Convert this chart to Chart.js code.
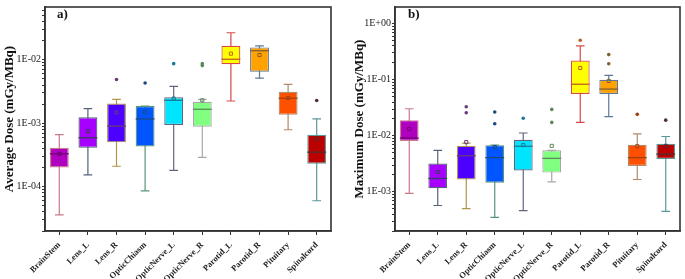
<!DOCTYPE html>
<html>
<head>
<meta charset="utf-8">
<script src="https://cdn.jsdelivr.net/npm/chart.js@4.4.1/dist/chart.umd.min.js"></script>
<style>
  body { margin: 0; background: #fff; }
  #wrap { position: relative; width: 685px; height: 279px; overflow: hidden; background: #fff; }
  .panel { position: absolute; top: 0; }
  .tag { position: absolute; font: bold 13px 'Liberation Serif', 'Times New Roman', serif; color: #111; }
</style>
</head>
<body>
<div id="wrap">
  <canvas id="avgChart" class="panel" width="336" height="279" style="left:0px"></canvas>
  <canvas id="maxChart" class="panel" width="335" height="279" style="left:350px"></canvas>
  <div class="tag" style="left:57px; top:6px;">a)</div>
  <div class="tag" style="left:408px; top:6px;">b)</div>
</div>
<script>
const organs = ['BrainStem', 'Lens_L', 'Lens_R', 'OpticChiasm', 'OpticNerve_L', 'OpticNerve_R', 'Parotid_L', 'Parotid_R', 'Pituitary', 'Spinalcord'];

// a) average dose
const avgMin    = [3.6e-5, 1.53e-4, 2.1e-4, 8.6e-5, 1.8e-4, 2.9e-4, 2.24e-3, 5.15e-3, 7.9e-4, 6.0e-5];
const avgQ1     = [2.0e-4, 4.1e-4, 5.0e-4, 4.3e-4, 9.4e-4, 8.8e-4, 8.5e-3, 6.5e-3, 1.36e-3, 2.3e-4];
const avgMedian = [3.3e-4, 5.9e-4, 9.0e-4, 1.17e-3, 2.3e-3, 1.66e-3, 1.02e-2, 1.39e-2, 2.48e-3, 3.5e-4];
const avgQ3     = [4.1e-4, 1.24e-3, 2.05e-3, 1.87e-3, 2.57e-3, 2.18e-3, 1.66e-2, 1.57e-2, 3.14e-3, 6.6e-4];
const avgMax    = [6.6e-4, 1.7e-3, 2.37e-3, 1.87e-3, 3.8e-3, 2.37e-3, 2.67e-2, 1.66e-2, 4.1e-3, 1.17e-3];
const avgMean   = [3.3e-4, 7.5e-4, 1.48e-3, 1.48e-3, 2.45e-3, 2.3e-3, 1.25e-2, 1.19e-2, 2.5e-3, 5.7e-4];
const avgOutliers = [[], [], [4.9e-3], [4.3e-3], [8.7e-3], [8.7e-3, 8.1e-3], [], [], [], [2.28e-3]];
const avgTicks = [1e-4, 1e-3, 1e-2];

// b) maximum dose
const maxMin    = [9.4e-4, 5.7e-4, 5.0e-4, 3.5e-4, 4.6e-4, 1.5e-3, 1.73e-2, 2.2e-2, 1.66e-3, 4.46e-4];
const maxQ1     = [8.05e-3, 1.16e-3, 1.66e-3, 1.45e-3, 2.4e-3, 2.2e-3, 5.54e-2, 5.54e-2, 2.9e-3, 3.86e-3];
const maxMedian = [9.1e-3, 1.73e-3, 4.4e-3, 4.07e-3, 6.5e-3, 3.95e-3, 8.3e-2, 6.8e-2, 4.07e-3, 4.7e-3];
const maxQ3     = [1.9e-2, 3.2e-3, 6.6e-3, 6.8e-3, 8.5e-3, 5.5e-3, 0.22, 0.1, 6.9e-3, 7.2e-3];
const maxMax    = [3.03e-2, 5.5e-3, 7.4e-3, 6.8e-3, 1.12e-2, 5.5e-3, 0.40, 0.119, 1.08e-2, 9.7e-3];
const maxMean   = [1.32e-2, 2.25e-3, 7.7e-3, 6.3e-3, 6.8e-3, 6.6e-3, 0.162, 0.095, 6.5e-3, 6.6e-3];
const maxOutliers = [[], [], [0.0329, 0.0258], [0.0265, 0.0164], [0.0205], [0.0295, 0.0173], [0.505], [0.28, 0.192], [0.0241], [0.019]];
const maxTicks = [1e-3, 1e-2, 1e-1, 1];

// colours
const boxFill   = ['#b000c0', '#a800ff', '#4c00ff', '#0055ff', '#00e5ff', '#80ff80', '#ffff00', '#ffa200', '#ff5000', '#bb0000'];
const lineColor = ['#c87a88', '#56637a', '#b0954a', '#5a9478', '#646480', '#a8a8a8', '#d84848', '#5d7896', '#b08a6c', '#5a9898'];
const darkColor = ['#700070', '#3a3a60', '#6a3a7a', '#1a4a80', '#1a7a90', '#5a8a5a', '#c06020', '#806030', '#a04010', '#503030'];

const serif = "'Liberation Serif', 'Times New Roman', serif";

function sciLabel(v) {
  const e = Math.round(Math.log10(v));
  if (Math.abs(Math.log10(v) - e) > 1e-6) return '';
  return '1E' + (e < 0 ? '-' : '+') + String(Math.abs(e)).padStart(2, '0');
}

// whiskers behind the boxes, medians on top of them
const boxExtras = {
  id: 'boxExtras',
  beforeDatasetDraw(chart, args, opts) {
    if (args.index !== 2) return;
    const ctx = chart.ctx, y = chart.scales.y;
    args.meta.data.forEach((bar, i) => {
      const half = bar.width * 0.23;
      ctx.save();
      ctx.strokeStyle = lineColor[i];
      ctx.lineWidth = 1.2;
      ctx.beginPath();
      ctx.moveTo(bar.x, y.getPixelForValue(opts.min[i]));
      ctx.lineTo(bar.x, y.getPixelForValue(opts.max[i]));
      [opts.min[i], opts.max[i]].forEach(v => {
        const py = y.getPixelForValue(v);
        ctx.moveTo(bar.x - half, py);
        ctx.lineTo(bar.x + half, py);
      });
      ctx.stroke();
      ctx.restore();
    });
  },
  afterDatasetDraw(chart, args, opts) {
    if (args.index !== 2) return;
    const ctx = chart.ctx, y = chart.scales.y;
    args.meta.data.forEach((bar, i) => {
      const py = y.getPixelForValue(opts.median[i]);
      ctx.save();
      ctx.strokeStyle = darkColor[i];
      ctx.lineWidth = 1.3;
      ctx.beginPath();
      ctx.moveTo(bar.x - bar.width / 2, py);
      ctx.lineTo(bar.x + bar.width / 2, py);
      ctx.stroke();
      ctx.restore();
    });
  },
  afterDraw(chart) {
    const a = chart.chartArea, ctx = chart.ctx;
    ctx.save();
    ctx.strokeStyle = '#333';
    ctx.lineWidth = 1.6;
    ctx.strokeRect(a.left, a.top, a.right - a.left, a.bottom - a.top);
    ctx.restore();
  }
};

function makeChart(id, title, d) {
  const outlierPts = [], outlierCols = [];
  d.outliers.forEach((list, i) => list.forEach(v => {
    outlierPts.push({ x: organs[i], y: v });
    outlierCols.push(darkColor[i]);
  }));
  const minor = [];
  d.ticks.forEach(t => [1, 2, 3, 4, 5, 6, 7, 8, 9].forEach(m => {
    [t / 10, t].forEach(base => {
      const v = parseFloat((m * base).toPrecision(3));
      if (v >= d.yMin && v <= d.yMax && !minor.includes(v)) minor.push(v);
    });
  }));
  [d.ticks[d.ticks.length - 1]].forEach(t => [2, 3, 4, 5, 6, 7, 8, 9].forEach(m => {
    const v = parseFloat((m * t).toPrecision(3));
    if (v <= d.yMax && !minor.includes(v)) minor.push(v);
  }));
  minor.sort((a, b) => a - b);

  return new Chart(document.getElementById(id), {
    type: 'bar',
    data: {
      labels: organs,
      datasets: [{
        type: 'line',
        data: d.mean,
        showLine: false,
        pointStyle: 'rect',
        pointRadius: 2.2,
        pointBorderWidth: 1,
        pointBackgroundColor: 'rgba(0,0,0,0)',
        pointBorderColor: darkColor,
        order: 0
      }, {
        type: 'line',
        data: outlierPts,
        showLine: false,
        pointStyle: 'circle',
        pointRadius: 1.8,
        pointBorderWidth: 0,
        pointBackgroundColor: outlierCols,
        order: 1
      }, {
        type: 'bar',
        data: organs.map((_, i) => [d.q1[i], d.q3[i]]),
        backgroundColor: boxFill,
        borderColor: lineColor,
        borderWidth: 1.2,
        borderSkipped: false,
        categoryPercentage: 1,
        barPercentage: 0.66,
        order: 2
      }]
    },
    options: {
      responsive: false,
      animation: false,
      devicePixelRatio: 1,
      layout: { padding: { top: 2, right: d.padRight, left: 0, bottom: 0 } },
      plugins: {
        legend: { display: false },
        tooltip: { enabled: false },
        boxExtras: { min: d.min, max: d.max, median: d.median }
      },
      scales: {
        x: {
          type: 'category',
          offset: true,
          grid: { offset: false, drawOnChartArea: false, tickLength: 4, color: '#333' },
          border: { color: '#333', width: 1.6 },
          ticks: { autoSkip: false, minRotation: 45, maxRotation: 45, padding: 5, color: '#222', font: { family: serif, size: 8.5, weight: 'bold' } },
          afterFit: s => { s.height = 48; }
        },
        y: {
          type: 'logarithmic',
          min: d.yMin,
          max: d.yMax,
          grid: { drawOnChartArea: false, tickLength: 3, color: '#333' },
          border: { color: '#333', width: 1.6 },
          ticks: { autoSkip: false, padding: 1, color: '#222', font: { family: serif, size: 10 }, callback: v => sciLabel(v) },
          afterBuildTicks: s => { s.ticks = minor.map(v => ({ value: v })); },
          title: { display: true, text: title, color: '#111', padding: { top: 2, bottom: 0 }, font: { family: serif, size: 13, weight: 'bold' } },
          afterFit: s => { s.width = 45; }
        }
      }
    },
    plugins: [boxExtras]
  });
}

makeChart('avgChart', 'Average Dose (mGy/MBq)', {
  min: avgMin, q1: avgQ1, median: avgMedian, q3: avgQ3, max: avgMax, mean: avgMean,
  outliers: avgOutliers, ticks: avgTicks, yMin: 2.0e-5, yMax: 0.068, padRight: 3
});
makeChart('maxChart', 'Maximum Dose (mGy/MBq)', {
  min: maxMin, q1: maxQ1, median: maxMedian, q3: maxQ3, max: maxMax, mean: maxMean,
  outliers: maxOutliers, ticks: maxTicks, yMin: 2.0e-4, yMax: 1.98, padRight: 2
});
</script>
</body>
</html>
